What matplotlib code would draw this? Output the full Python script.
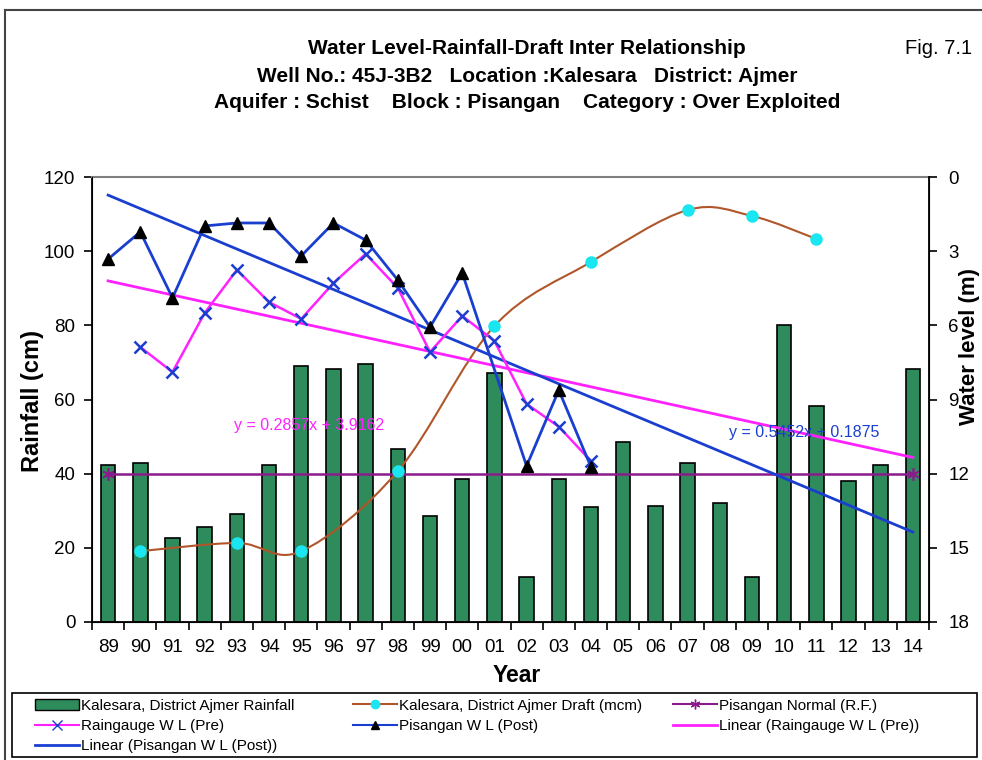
import numpy as np
import matplotlib
matplotlib.use("Agg")
import matplotlib.pyplot as plt
from matplotlib.path import Path
from matplotlib.patches import PathPatch, Rectangle
from matplotlib.lines import Line2D

plt.rcParams['font.family'] = ['Liberation Sans', 'DejaVu Sans']

# ---- data ----
years = ['89', '90', '91', '92', '93', '94', '95', '96', '97', '98', '99', '00', '01',
         '02', '03', '04', '05', '06', '07', '08', '09', '10', '11', '12', '13', '14']

rainfall = [42.3, 42.9, 22.6, 25.6, 29.1, 42.3, 69.0, 68.2, 69.6, 46.7, 28.6, 38.6, 67.2,
            12.1, 38.5, 31.0, 48.5, 31.3, 43.0, 32.0, 12.1, 80.0, 58.2, 38.0, 42.3, 68.2]

draft_years = ['90', '93', '95', '98', '01', '04', '07', '09', '11']
draft = [19.1, 21.3, 19.1, 40.7, 79.8, 97.1, 111.1, 109.5, 103.3]

normal_years = ['89', '14']
normal_rf = [40.0, 40.0]

pre_years = ['90', '91', '92', '93', '94', '95', '96', '97', '98', '99', '00', '01',
             '02', '03', '04']
pre_wl = [6.88, 7.89, 5.50, 3.76, 5.06, 5.74, 4.29, 3.11, 4.49, 7.08, 5.62, 6.63,
          9.18, 10.10, 11.49]

post_years = ['89', '90', '91', '92', '93', '94', '95', '96', '97', '98', '99', '00',
              '02', '03', '04']
post_wl = [3.32, 2.22, 4.89, 1.98, 1.86, 1.86, 3.19, 1.86, 2.55, 4.17, 6.07, 3.88,
           11.69, 8.62, 11.73]

# Excel trendline coefficients (x = category number 1..26)
pre_trend = (0.2857, 3.9162)
post_trend = (0.5452, 0.1875)

pos = {y: i for i, y in enumerate(years)}

BAR_C = '#2e8b5c'
DRAFT_C = '#b0562a'
CYAN = '#19e6f0'
PURPLE = '#8b1a8b'
MAGENTA = '#ff22ff'
BLUE = '#1a3fd0'


def smooth_path(xs, ys):
    """Excel-style smoothed line as cubic Bezier segments through the points."""
    pts = np.column_stack([xs, ys]).astype(float)
    n = len(pts)
    verts = [pts[0]]
    codes = [Path.MOVETO]
    for i in range(n - 1):
        p0 = pts[i - 1] if i > 0 else pts[i]
        p1, p2 = pts[i], pts[i + 1]
        p3 = pts[i + 2] if i + 2 < n else pts[i + 1]
        verts += [p1 + (p2 - p0) / 6.0, p2 - (p3 - p1) / 6.0, p2]
        codes += [Path.CURVE4] * 3
    return Path(verts, codes)


W, H = 982, 760
fig = plt.figure(figsize=(W / 100, H / 100), dpi=100)
ax = fig.add_axes([92 / W, 1 - 622 / H, (929 - 92) / W, (622 - 177) / H])
ax2 = ax.twinx()

x = np.arange(len(years))
ax.bar(x, rainfall, width=0.45, color=BAR_C, edgecolor='black', linewidth=1.2, zorder=2)

dx = [pos[y] for y in draft_years]
ax.add_patch(PathPatch(smooth_path(dx, draft), facecolor='none', edgecolor=DRAFT_C,
                       linewidth=1.5, zorder=3))
ax.plot(dx, draft, linestyle='none', marker='o', markersize=8, color=CYAN, zorder=4)

ax.plot([pos[y] for y in normal_years], normal_rf, color=PURPLE, linewidth=1.8,
        marker=(6, 2, 0), markersize=9, markeredgewidth=1.2, zorder=3)

ax.set_xlim(-0.5, len(years) - 0.5)
ax.set_ylim(0, 120)
ax.set_yticks(range(0, 121, 20))
ax.set_xticks(x)
ax.set_xticklabels(years)
ax.set_xticks(np.arange(len(years) + 1) - 0.5, minor=True)
ax.tick_params(axis='x', which='major', length=0, labelsize=13.5, pad=12)
ax.tick_params(axis='x', which='minor', length=6, width=1.2, direction='out')
ax.tick_params(axis='y', length=6, width=1.2, labelsize=13.5, pad=6)
for s in ['left', 'bottom']:
    ax.spines[s].set_linewidth(1.3)
ax.spines['top'].set_color('#808080')
ax.spines['top'].set_linewidth(1.5)

# water level on the right, depth increasing downwards
tx = x + 1
ax2.plot(x, pre_trend[0] * tx + pre_trend[1], color=MAGENTA, linewidth=2, zorder=3)
ax2.plot(x, post_trend[0] * tx + post_trend[1], color=BLUE, linewidth=2, zorder=3)
ax2.plot([pos[y] for y in pre_years], pre_wl, color=MAGENTA, linewidth=1.8,
         marker='x', markersize=9, markeredgewidth=1.8, markeredgecolor=BLUE, zorder=4)
ax2.plot([pos[y] for y in post_years], post_wl, color=BLUE, linewidth=2,
         marker='^', markersize=9, markerfacecolor='black', markeredgecolor='black', zorder=5)
ax2.set_ylim(18, 0)
ax2.set_yticks(range(0, 19, 3))
ax2.tick_params(axis='y', length=6, width=1.2, labelsize=13.5, pad=8)
ax2.spines['right'].set_linewidth(1.3)
ax2.spines['top'].set_visible(False)

ax2.text(3.9, 10.05, 'y = 0.2857x + 3.9162', color=MAGENTA, fontsize=11.5, va='center')
ax2.text(19.3, 10.35, 'y = 0.5452x + 0.1875', color=BLUE, fontsize=11.5, va='center')

# axis titles
lkw = dict(fontweight='bold', ha='center')
fig.text(517 / W, 1 - 675 / H, 'Year', fontsize=16.5, va='center', **lkw)
fig.text(33 / W, 1 - 401 / H, 'Rainfall (cm)', fontsize=17, rotation=90, va='center', **lkw)
fig.text(970 / W, 1 - 268 / H, 'Water level (m)', fontsize=16, rotation=90, va='top', **lkw)

# titles
tkw = dict(ha='center', va='center', fontsize=15, fontweight='bold')
fig.text(527 / W, 1 - 48 / H, 'Water Level-Rainfall-Draft Inter Relationship', **tkw)
fig.text(527 / W, 1 - 76 / H,
         'Well No.: 45J-3B2   Location :Kalesara   District: Ajmer', **tkw)
fig.text(527 / W, 1 - 102 / H,
         'Aquifer : Schist    Block : Pisangan    Category : Over Exploited', **tkw)
fig.text(972 / W, 1 - 48 / H, 'Fig. 7.1', ha='right', va='center', fontsize=14.5)

# outer border
fig.add_artist(Line2D([5 / W, 1], [1 - 10 / H] * 2, color='#444444', linewidth=1.5))
fig.add_artist(Line2D([5 / W] * 2, [0, 1 - 10 / H], color='#444444', linewidth=1.5))

# legend: box plus three columns
fig.add_artist(Rectangle((12 / W, 1 - 757 / H), 965 / W, 64 / H,
                         transform=fig.transFigure, fill=False, edgecolor='black',
                         linewidth=1.2))

h_rain = Rectangle((0, 0), 1, 1, facecolor=BAR_C, edgecolor='black')
h_pre = Line2D([], [], color=MAGENTA, marker='x', markeredgecolor=BLUE, markersize=7)
h_lpost = Line2D([], [], color=BLUE, linewidth=2)
h_draft = Line2D([], [], color=DRAFT_C, marker='o', markerfacecolor=CYAN,
                 markeredgecolor=CYAN, markersize=6)
h_post = Line2D([], [], color=BLUE, marker='^', markerfacecolor='black',
                markeredgecolor='black', markersize=6)
h_norm = Line2D([], [], color=PURPLE, marker=(6, 2, 0), markersize=7)
h_lpre = Line2D([], [], color=MAGENTA, linewidth=2)

columns = [
    (30, [h_rain, h_pre, h_lpost], ['Kalesara, District Ajmer Rainfall',
                                     'Raingauge W L (Pre)',
                                     'Linear (Pisangan W L (Post))']),
    (348, [h_draft, h_post], ['Kalesara, District Ajmer Draft (mcm)',
                              'Pisangan W L (Post)']),
    (668, [h_norm, h_lpre], ['Pisangan Normal (R.F.)', 'Linear (Raingauge W L (Pre))']),
]
for left, hs, ls in columns:
    fig.legend(hs, ls, loc='upper left', bbox_to_anchor=(left / W, 1 - 694 / H),
               fontsize=11, frameon=False, borderaxespad=0, borderpad=0.3,
               handlelength=2.9, handletextpad=0.15, labelspacing=0.42)

fig.savefig('out.png', dpi=100)
